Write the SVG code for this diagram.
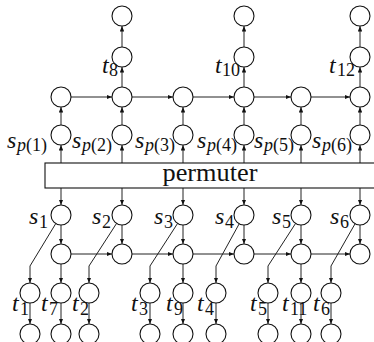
<svg xmlns="http://www.w3.org/2000/svg" width="374" height="342" viewBox="0 0 374 342">
<defs>
<marker id="ah" viewBox="0 0 10 8" refX="10" refY="4" markerWidth="5.5" markerHeight="4.4" orient="auto" markerUnits="userSpaceOnUse"><path d="M0,0 L10,4 L0,8 z" fill="#111"/></marker>
</defs>
<style>
.n{fill:#fff;stroke:#111;stroke-width:1.1}
.e{fill:none;stroke:#222;stroke-width:1;marker-end:url(#ah)}
.m{font-family:'Liberation Serif',serif;font-style:italic;font-size:24px;fill:#111}
.s{font-family:'Liberation Serif',serif;font-size:18px;fill:#111}
.i{font-style:italic}
.box{fill:#fff;stroke:#111;stroke-width:1.1}
.pt{font-family:'Liberation Serif',serif;font-size:25px;fill:#111}
</style>
<rect width="374" height="342" fill="#fff"/>

<g id="connectors">
<line class="e" x1="61" y1="163" x2="61" y2="145"/>
<line class="e" x1="122" y1="163" x2="122" y2="145"/>
<line class="e" x1="183" y1="163" x2="183" y2="145"/>
<line class="e" x1="244" y1="163" x2="244" y2="145"/>
<line class="e" x1="301" y1="163" x2="301" y2="145"/>
<line class="e" x1="360" y1="163" x2="360" y2="145"/>
<line class="e" x1="61" y1="125" x2="61" y2="107"/>
<line class="e" x1="122" y1="125" x2="122" y2="107"/>
<line class="e" x1="183" y1="125" x2="183" y2="107"/>
<line class="e" x1="244" y1="125" x2="244" y2="107"/>
<line class="e" x1="301" y1="125" x2="301" y2="107"/>
<line class="e" x1="360" y1="125" x2="360" y2="107"/>
<line class="e" x1="71" y1="97" x2="112" y2="97"/>
<line class="e" x1="132" y1="97" x2="173" y2="97"/>
<line class="e" x1="193" y1="97" x2="234" y2="97"/>
<line class="e" x1="254" y1="97" x2="291" y2="97"/>
<line class="e" x1="311" y1="97" x2="350" y2="97"/>
<line class="e" x1="122" y1="87" x2="122" y2="67"/>
<line class="e" x1="244" y1="87" x2="244" y2="67"/>
<line class="e" x1="360" y1="87" x2="360" y2="67"/>
<line class="e" x1="122" y1="47" x2="122" y2="26"/>
<line class="e" x1="244" y1="47" x2="244" y2="26"/>
<line class="e" x1="360" y1="47" x2="360" y2="26"/>
<line class="e" x1="61" y1="188" x2="61" y2="205"/>
<line class="e" x1="122" y1="188" x2="122" y2="205"/>
<line class="e" x1="183" y1="188" x2="183" y2="205"/>
<line class="e" x1="244" y1="188" x2="244" y2="205"/>
<line class="e" x1="301" y1="188" x2="301" y2="205"/>
<line class="e" x1="360" y1="188" x2="360" y2="205"/>
<line class="e" x1="61" y1="225" x2="61" y2="244"/>
<line class="e" x1="122" y1="225" x2="122" y2="244"/>
<line class="e" x1="183" y1="225" x2="183" y2="244"/>
<line class="e" x1="244" y1="225" x2="244" y2="244"/>
<line class="e" x1="301" y1="225" x2="301" y2="244"/>
<line class="e" x1="360" y1="225" x2="360" y2="244"/>
<line class="e" x1="71" y1="254" x2="112" y2="254"/>
<line class="e" x1="132" y1="254" x2="173" y2="254"/>
<line class="e" x1="193" y1="254" x2="234" y2="254"/>
<line class="e" x1="254" y1="254" x2="291" y2="254"/>
<line class="e" x1="311" y1="254" x2="350" y2="254"/>
<path class="e" d="M55.8,223.5 L30,266 L30,283"/>
<path class="e" d="M116.6,223.4 L89,266 L89,283"/>
<path class="e" d="M177.6,223.4 L150,266 L150,283"/>
<path class="e" d="M239.2,223.8 L216,266 L216,283"/>
<path class="e" d="M295.6,223.4 L268,266 L268,283"/>
<path class="e" d="M355.1,223.7 L331,266 L331,283"/>
<line class="e" x1="61" y1="264" x2="61" y2="283"/>
<line class="e" x1="183" y1="264" x2="183" y2="283"/>
<line class="e" x1="301" y1="264" x2="301" y2="283"/>
<line class="e" x1="30" y1="303" x2="30" y2="324"/>
<line class="e" x1="61" y1="303" x2="61" y2="324"/>
<line class="e" x1="89" y1="303" x2="89" y2="324"/>
<line class="e" x1="150" y1="303" x2="150" y2="324"/>
<line class="e" x1="183" y1="303" x2="183" y2="324"/>
<line class="e" x1="216" y1="303" x2="216" y2="324"/>
<line class="e" x1="268" y1="303" x2="268" y2="324"/>
<line class="e" x1="301" y1="303" x2="301" y2="324"/>
<line class="e" x1="331" y1="303" x2="331" y2="324"/>
</g>

<g id="permuter">
<rect class="box" x="45" y="163" width="340" height="25"/>
<text class="pt" x="210" y="181" text-anchor="middle" textLength="95" lengthAdjust="spacingAndGlyphs">permuter</text>
</g>

<g id="sp1"><circle class="n" cx="61" cy="135" r="10"/><text class="m" x="7" y="148">s</text><text class="s" x="17" y="151"><tspan class="i">p</tspan>(1)</text></g>
<g id="sp2"><circle class="n" cx="122" cy="135" r="10"/><text class="m" x="72" y="148">s</text><text class="s" x="82" y="151"><tspan class="i">p</tspan>(2)</text></g>
<g id="sp3"><circle class="n" cx="183" cy="135" r="10"/><text class="m" x="135" y="148">s</text><text class="s" x="145" y="151"><tspan class="i">p</tspan>(3)</text></g>
<g id="sp4"><circle class="n" cx="244" cy="135" r="10"/><text class="m" x="197" y="148">s</text><text class="s" x="207" y="151"><tspan class="i">p</tspan>(4)</text></g>
<g id="sp5"><circle class="n" cx="301" cy="135" r="10"/><text class="m" x="254" y="148">s</text><text class="s" x="264" y="151"><tspan class="i">p</tspan>(5)</text></g>
<g id="sp6"><circle class="n" cx="360" cy="135" r="10"/><text class="m" x="312" y="148">s</text><text class="s" x="322" y="151"><tspan class="i">p</tspan>(6)</text></g>
<g id="m1"><circle class="n" cx="61" cy="97" r="10"/></g>
<g id="m2"><circle class="n" cx="122" cy="97" r="10"/></g>
<g id="m3"><circle class="n" cx="183" cy="97" r="10"/></g>
<g id="m4"><circle class="n" cx="244" cy="97" r="10"/></g>
<g id="m5"><circle class="n" cx="301" cy="97" r="10"/></g>
<g id="m6"><circle class="n" cx="360" cy="97" r="10"/></g>
<g id="t8"><circle class="n" cx="122" cy="57" r="10"/><text class="m" x="102" y="73">t</text><text class="s" x="109" y="76">8</text></g>
<g id="t10"><circle class="n" cx="244" cy="57" r="10"/><text class="m" x="215" y="73">t</text><text class="s" x="222" y="76">10</text></g>
<g id="t12"><circle class="n" cx="360" cy="57" r="10"/><text class="m" x="329" y="73">t</text><text class="s" x="337" y="76">12</text></g>
<g id="o8"><circle class="n" cx="122" cy="16" r="10"/></g>
<g id="o10"><circle class="n" cx="244" cy="16" r="10"/></g>
<g id="o12"><circle class="n" cx="360" cy="16" r="10"/></g>

<g id="s1"><circle class="n" cx="61" cy="215" r="10"/><text class="m" x="29" y="224">s</text><text class="s" x="39" y="228">1</text></g>
<g id="s2"><circle class="n" cx="122" cy="215" r="10"/><text class="m" x="92" y="224">s</text><text class="s" x="102" y="228">2</text></g>
<g id="s3"><circle class="n" cx="183" cy="215" r="10"/><text class="m" x="154" y="224">s</text><text class="s" x="164" y="228">3</text></g>
<g id="s4"><circle class="n" cx="244" cy="215" r="10"/><text class="m" x="215" y="224">s</text><text class="s" x="225" y="228">4</text></g>
<g id="s5"><circle class="n" cx="301" cy="215" r="10"/><text class="m" x="272" y="224">s</text><text class="s" x="282" y="228">5</text></g>
<g id="s6"><circle class="n" cx="360" cy="215" r="10"/><text class="m" x="330" y="224">s</text><text class="s" x="340" y="228">6</text></g>
<g id="b1"><circle class="n" cx="61" cy="254" r="10"/></g>
<g id="b2"><circle class="n" cx="122" cy="254" r="10"/></g>
<g id="b3"><circle class="n" cx="183" cy="254" r="10"/></g>
<g id="b4"><circle class="n" cx="244" cy="254" r="10"/></g>
<g id="b5"><circle class="n" cx="301" cy="254" r="10"/></g>
<g id="b6"><circle class="n" cx="360" cy="254" r="10"/></g>
<g id="t1"><circle class="n" cx="30" cy="293" r="10"/><text class="m" x="12" y="311">t</text><text class="s" x="20" y="315">1</text></g>
<g id="t7"><circle class="n" cx="61" cy="293" r="10"/><text class="m" x="41" y="311">t</text><text class="s" x="49" y="315">7</text></g>
<g id="t2"><circle class="n" cx="89" cy="293" r="10"/><text class="m" x="72" y="311">t</text><text class="s" x="80" y="315">2</text></g>
<g id="t3"><circle class="n" cx="150" cy="293" r="10"/><text class="m" x="131" y="311">t</text><text class="s" x="139" y="315">3</text></g>
<g id="t9"><circle class="n" cx="183" cy="293" r="10"/><text class="m" x="166" y="311">t</text><text class="s" x="174" y="315">9</text></g>
<g id="t4"><circle class="n" cx="216" cy="293" r="10"/><text class="m" x="197" y="311">t</text><text class="s" x="205" y="315">4</text></g>
<g id="t5"><circle class="n" cx="268" cy="293" r="10"/><text class="m" x="250" y="311">t</text><text class="s" x="258" y="315">5</text></g>
<g id="t11"><circle class="n" cx="301" cy="293" r="10"/><text class="m" x="282" y="311">t</text><text class="s" x="290" y="315">11</text></g>
<g id="t6"><circle class="n" cx="331" cy="293" r="10"/><text class="m" x="313" y="311">t</text><text class="s" x="321" y="315">6</text></g>
<g id="u1"><circle class="n" cx="30" cy="334" r="10"/></g>
<g id="u7"><circle class="n" cx="61" cy="334" r="10"/></g>
<g id="u2"><circle class="n" cx="89" cy="334" r="10"/></g>
<g id="u3"><circle class="n" cx="150" cy="334" r="10"/></g>
<g id="u9"><circle class="n" cx="183" cy="334" r="10"/></g>
<g id="u4"><circle class="n" cx="216" cy="334" r="10"/></g>
<g id="u5"><circle class="n" cx="268" cy="334" r="10"/></g>
<g id="u11"><circle class="n" cx="301" cy="334" r="10"/></g>
<g id="u6"><circle class="n" cx="331" cy="334" r="10"/></g>
</svg>
